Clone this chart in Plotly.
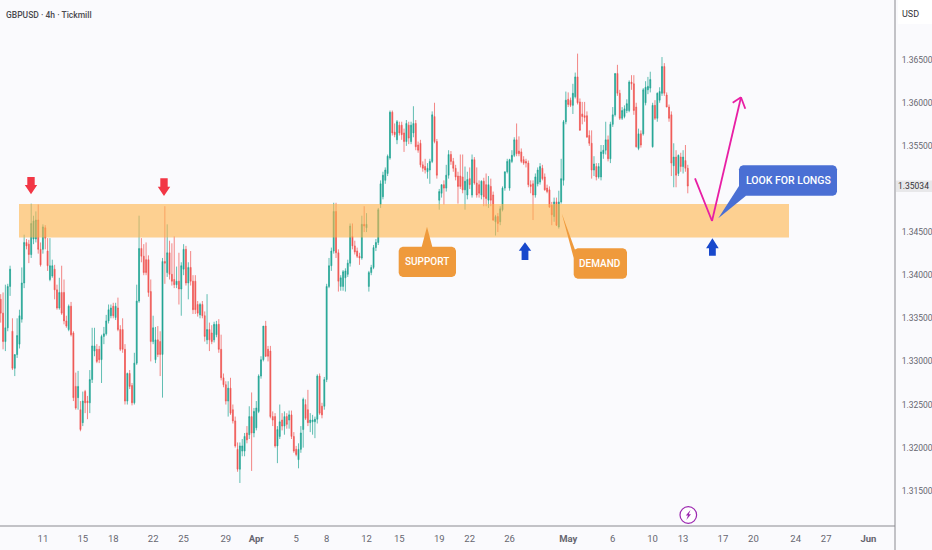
import plotly.graph_objects as go

# Prices as ten-thousandths above 1.0000 (3372 = 1.3372), one entry per 4h candle
OPEN_BP = [3372,3356,3323,3339,3387,3335,3292,3308,3320,3349,
3391,3438,3436,3424,3442,3442,3464,3430,3430,3455,
3428,3395,3399,3407,3383,3362,3380,3380,3347,3337,
3364,3333,3271,3258,3244,3229,3265,3254,3252,3279,
3312,3314,3314,3302,3329,3332,3347,3353,3364,3351,
3362,3337,3337,3314,3254,3286,3272,3252,3298,3370,
3431,3422,3418,3418,3381,3323,3302,3325,3323,3308,
3416,3403,3426,3401,3395,3389,3393,3384,3407,3430,
3391,3409,3393,3393,3366,3354,3366,3353,3325,3337,
3333,3325,3331,3343,3314,3281,3273,3254,3269,3244,
3231,3198,3175,3196,3196,3217,3215,3236,3217,3223,
3242,3283,3302,3341,3314,3312,3236,3236,3202,3213,
3232,3225,3236,3232,3238,3213,3198,3186,3198,3221,
3250,3244,3229,3230,3230,3233,3283,3248,3248,3279,
3387,3411,3428,3474,3426,3387,3387,3397,3401,3414,
3445,3434,3428,3422,3420,3459,3455,3387,3403,3409,
3432,3438,3482,3491,3510,3518,3536,3589,3566,3557,
3574,3574,3565,3555,3574,3555,3565,3576,3551,3553,
3528,3526,3520,3522,3532,3584,3555,3487,3495,3505,
3501,3516,3540,3532,3524,3515,3515,3514,3499,3493,
3512,3493,3534,3507,3505,3493,3509,3505,3487,3503,
3493,3462,3468,3462,3476,3501,3520,3501,3532,3539,
3557,3544,3543,3534,3532,3530,3505,3506,3493,3506,
3508,3524,3514,3501,3499,3481,3468,3485,3456,3485,
3510,3578,3604,3603,3597,3607,3630,3601,3587,3585,
3585,3562,3553,3522,3526,3514,3514,3541,3545,3557,
3535,3575,3586,3634,3611,3582,3584,3591,3591,3624,
3622,3595,3547,3564,3564,3600,3615,3617,3549,3597,
3582,3603,3611,3642,3609,3595,3586,3527,3537,3518,
3537,3526,3533,3524]
HIGH_BP = [3378,3380,3389,3390,3411,3350,3308,3350,3360,3409,
3447,3442,3441,3483,3469,3474,3482,3438,3459,3458,
3443,3443,3418,3412,3389,3397,3411,3395,3353,3366,
3369,3335,3287,3289,3254,3265,3267,3260,3290,3339,
3339,3320,3318,3331,3340,3354,3366,3366,3368,3368,
3374,3342,3350,3320,3287,3290,3275,3310,3389,3469,
3443,3436,3438,3423,3395,3353,3340,3341,3335,3420,
3480,3459,3440,3437,3445,3410,3426,3415,3436,3434,
3415,3428,3400,3400,3370,3368,3370,3358,3378,3345,
3342,3346,3347,3349,3331,3286,3277,3277,3281,3250,
3236,3206,3206,3210,3217,3225,3248,3264,3246,3254,
3285,3306,3341,3347,3318,3318,3242,3240,3225,3250,
3240,3242,3240,3243,3243,3218,3202,3205,3225,3258,
3256,3267,3240,3238,3236,3285,3286,3252,3282,3390,
3420,3432,3484,3484,3430,3400,3406,3408,3418,3460,
3460,3440,3432,3426,3469,3480,3472,3405,3412,3435,
3442,3478,3510,3520,3525,3540,3591,3591,3576,3580,
3578,3578,3570,3580,3578,3578,3596,3580,3555,3557,
3532,3535,3530,3535,3590,3600,3558,3500,3505,3510,
3528,3545,3544,3536,3528,3520,3540,3540,3526,3520,
3525,3540,3537,3525,3510,3510,3513,3518,3515,3512,
3497,3470,3472,3480,3503,3520,3535,3535,3545,3560,
3576,3561,3547,3538,3535,3533,3510,3510,3518,3525,
3530,3528,3518,3505,3503,3485,3490,3490,3498,3535,
3580,3613,3612,3606,3622,3635,3657,3605,3601,3601,
3590,3568,3568,3538,3530,3530,3551,3551,3578,3562,
3578,3595,3634,3644,3615,3595,3597,3604,3626,3632,
3632,3600,3570,3568,3617,3625,3630,3636,3600,3603,
3612,3618,3653,3646,3612,3598,3590,3553,3545,3540,
3542,3545,3551,3528]
LOW_BP = [3345,3314,3312,3335,3376,3290,3283,3304,3315,3345,
3385,3430,3414,3420,3436,3438,3425,3410,3425,3430,
3405,3393,3397,3372,3360,3360,3354,3343,3339,3335,
3329,3254,3244,3244,3219,3225,3240,3233,3240,3275,
3306,3298,3298,3275,3320,3330,3344,3350,3350,3348,
3335,3312,3310,3250,3250,3268,3249,3250,3296,3368,
3415,3400,3400,3375,3300,3320,3298,3305,3283,3258,
3390,3398,3395,3388,3385,3385,3366,3353,3400,3388,
3372,3388,3355,3355,3352,3350,3350,3323,3320,3312,
3320,3322,3328,3310,3278,3270,3250,3236,3238,3228,
3200,3172,3159,3190,3190,3205,3210,3173,3212,3220,
3240,3280,3300,3305,3300,3234,3225,3200,3182,3210,
3220,3215,3222,3222,3210,3194,3190,3176,3194,3200,
3232,3225,3218,3215,3211,3228,3238,3234,3244,3276,
3385,3405,3425,3420,3381,3382,3382,3381,3398,3410,
3430,3424,3420,3412,3418,3450,3450,3381,3400,3407,
3428,3435,3478,3488,3506,3515,3534,3562,3560,3552,
3562,3557,3543,3550,3552,3552,3560,3545,3542,3525,
3520,3518,3512,3506,3530,3553,3512,3476,3490,3482,
3497,3512,3528,3520,3510,3483,3500,3495,3476,3488,
3500,3490,3505,3490,3490,3488,3480,3480,3478,3480,
3463,3446,3450,3458,3474,3498,3518,3498,3530,3537,
3538,3538,3530,3528,3525,3502,3495,3464,3490,3503,
3505,3510,3498,3495,3478,3458,3462,3457,3454,3483,
3504,3575,3595,3595,3587,3605,3598,3568,3575,3578,
3560,3550,3512,3515,3510,3512,3510,3535,3540,3532,
3530,3572,3584,3608,3580,3580,3582,3588,3589,3615,
3586,3548,3545,3548,3562,3597,3610,3612,3548,3580,
3578,3600,3608,3608,3595,3578,3515,3502,3502,3515,
3520,3518,3520,3495]
CLOSE_BP = [3356,3323,3339,3387,3407,3292,3308,3330,3353,3391,
3438,3434,3424,3460,3463,3464,3430,3412,3456,3443,
3411,3411,3411,3383,3362,3380,3356,3347,3341,3364,
3331,3258,3246,3271,3221,3254,3252,3252,3279,3318,
3318,3300,3302,3329,3332,3347,3360,3362,3353,3364,
3337,3314,3314,3254,3286,3271,3252,3298,3370,3431,
3422,3403,3403,3380,3323,3339,3325,3308,3308,3416,
3414,3426,3401,3393,3389,3393,3384,3411,3430,3391,
3409,3393,3360,3360,3356,3366,3353,3329,3337,3325,
3323,3343,3343,3314,3281,3273,3254,3269,3240,3231,
3202,3175,3202,3202,3213,3209,3236,3217,3242,3246,
3283,3302,3341,3306,3306,3236,3232,3202,3221,3230,
3225,3236,3227,3238,3213,3196,3192,3198,3217,3256,
3234,3229,3232,3232,3233,3283,3240,3238,3279,3387,
3411,3428,3474,3426,3393,3397,3404,3405,3414,3457,
3434,3427,3422,3420,3459,3457,3459,3403,3409,3432,
3438,3476,3506,3516,3522,3538,3589,3565,3563,3578,
3565,3563,3555,3576,3559,3574,3576,3549,3545,3528,
3524,3522,3524,3532,3586,3555,3516,3497,3505,3501,
3516,3540,3532,3524,3514,3503,3503,3499,3509,3511,
3505,3534,3507,3493,3495,3509,3491,3489,3505,3487,
3464,3468,3460,3477,3501,3520,3532,3534,3539,3557,
3541,3541,3532,3530,3530,3505,3503,3493,3514,3522,
3526,3512,3499,3497,3479,3470,3485,3458,3485,3512,
3578,3603,3598,3597,3611,3630,3600,3568,3584,3583,
3560,3553,3522,3529,3514,3526,3543,3545,3557,3535,
3575,3586,3634,3611,3582,3591,3593,3599,3624,3622,
3591,3549,3564,3551,3615,3618,3619,3627,3597,3582,
3611,3613,3642,3611,3595,3582,3530,3537,3516,3539,
3526,3537,3524,3503.4]

TICK_LABELS = ["6","11","15","18","22","25","29","<b>Apr</b>","5","8","12","15","19","22","26",
               "<b>May</b>","6","10","13","17","20","24","27","<b>Jun</b>"]
TICK_BARS = [0,18,35,48,65,78,96,109,126,139,156,170,187,200,217,242,261,278,291,308,321,339,352,370]
PRICE_TICKS = [1.315,1.32,1.325,1.33,1.335,1.34,1.345,1.355,1.36,1.365]
LAST_PRICE = "1.35034"

to_price = lambda bp: [1 + v / 10000 for v in bp]
opens, highs, lows, closes = map(to_price, (OPEN_BP, HIGH_BP, LOW_BP, CLOSE_BP))
bars = list(range(len(closes)))

W, H, PW, PH = 932, 550, 895, 526
BG = "#fafafd"
GREEN, RED = "#1ea392", "#ef5350"
FONT = "Roboto"

def X(px): return px / PW
def Y(py): return 1 - py / PH
def path(points):
    return "M " + " L ".join(f"{X(a):.5f} {Y(b):.5f}" for a, b in points) + " Z"

def bubble(x0, y0, x1, y1, top, left=None, r=4):
    pts = list(top)
    pts += [(x1 - r, y0), (x1 - r * .3, y0 + r * .3), (x1, y0 + r)]
    pts += [(x1, y1 - r), (x1 - r * .3, y1 - r * .3), (x1 - r, y1)]
    pts += [(x0 + r, y1), (x0 + r * .3, y1 - r * .3), (x0, y1 - r)]
    pts += left if left else [(x0, y0 + r)]
    pts += [(x0 + r * .3, y0 + r * .3), (x0 + r, y0)]
    return path(pts)

fig = go.Figure(go.Candlestick(
    x=bars, open=opens, high=highs, low=lows, close=closes,
    increasing=dict(line=dict(color=GREEN, width=0.7), fillcolor=GREEN),
    decreasing=dict(line=dict(color=RED, width=0.7), fillcolor=RED),
    whiskerwidth=0, showlegend=False, hoverinfo="skip"))

shapes = [
    # supply / demand zone
    dict(type="rect", xref="paper", yref="y", x0=X(19), x1=X(789), y0=1.34437, y1=1.34826,
         fillcolor="#ffb44a", opacity=0.6, line_width=0, layer="above"),
    # frame
    dict(type="line", xref="paper", yref="paper", x0=0, x1=1, y0=0, y1=0, line=dict(color="#8a8a90", width=1)),
    dict(type="line", xref="paper", yref="paper", x0=1, x1=1, y0=Y(0), y1=Y(H), line=dict(color="#8a8a90", width=1)),
    # USD box
    dict(type="rect", xref="paper", yref="paper", x0=X(898), x1=X(932), y0=Y(0), y1=Y(24), fillcolor="#ffffff", line_width=0),
    # last price tag
    dict(type="rect", xref="paper", yref="paper", x0=X(896), x1=X(932), y0=Y(180.5), y1=Y(192), fillcolor="#e8e8ea", line_width=0),
]
# red and blue block arrows
for x, top, c, hw, sw, neck, tip in [
        (31, 177, "#f23645", 6.2, 3.7, 185, 194.3),
        (164, 178.3, "#f23645", 6.2, 3.7, 186.7, 196)]:
    shapes.append(dict(type="path", xref="paper", yref="paper", line_width=0, fillcolor=c,
        path=path([(x-sw,top),(x+sw,top),(x+sw,neck),(x+hw,neck),(x,tip),(x-hw,neck),(x-sw,neck)])))
for x, tip, c, hw, sw, neck, bot in [
        (525, 242.3, "#1848cc", 6.2, 3.4, 250.7, 260),
        (712.4, 238.3, "#1848cc", 6.3, 3.4, 248.3, 255.7)]:
    shapes.append(dict(type="path", xref="paper", yref="paper", line_width=0, fillcolor=c,
        path=path([(x,tip),(x+hw,neck),(x+sw,neck),(x+sw,bot),(x-sw,bot),(x-sw,neck),(x-hw,neck)])))
# callouts
ORANGE, BLUE = "#ef9a3c", "#4a6fd4"
shapes.append(dict(type="path", xref="paper", yref="paper", line_width=0, fillcolor=ORANGE,
    path=bubble(398.7, 246.7, 456, 277, [(421.7, 246.7), (427, 226.7), (432.3, 246.7)])))
shapes.append(dict(type="path", xref="paper", yref="paper", line_width=0, fillcolor=ORANGE,
    path=bubble(573.7, 248.3, 627, 278.7, [(582, 248.3)], left=[(573.7, 258), (561.7, 213.3)])))
shapes.append(dict(type="path", xref="paper", yref="paper", line_width=0, fillcolor=BLUE,
    path=bubble(739, 165.3, 837, 195.7, [(743, 165.3)])))
shapes.append(dict(type="path", xref="paper", yref="paper", line_width=0, fillcolor=BLUE,
    path=path([(739, 186), (746, 195.7), (718.3, 218.3)])))
# projected path
PINK = "#e81ea4"
for a, b in [((695, 178.3), (712, 221)), ((712, 221), (741, 97.3)),
             ((732.7, 102.7), (741, 97.3)), ((741, 97.3), (745.3, 108.7))]:
    shapes.append(dict(type="line", xref="paper", yref="paper", x0=X(a[0]), y0=Y(a[1]), x1=X(b[0]), y1=Y(b[1]),
                       line=dict(color=PINK, width=1.8)))
# event marker
shapes.append(dict(type="circle", xref="paper", yref="paper", x0=X(680), x1=X(696.6), y0=Y(506.7), y1=Y(523.3),
                   line=dict(color="#9c27b0", width=1.2), fillcolor="#ffffff"))
shapes.append(dict(type="path", xref="paper", yref="paper", line_width=0, fillcolor="#9c27b0",
    path=path([(690.5, 510), (685.8, 515.6), (688, 515.6), (686.3, 520), (691, 514.2), (688.8, 514.2)])))

def label(px, py, text, size, color, weight=None, anchor="center"):
    return dict(xref="paper", yref="paper", x=X(px), y=Y(py), text=text, showarrow=False,
                xanchor=anchor, yanchor="middle", borderpad=0, font=dict(family=FONT, size=size, color=color, weight=weight))

annotations = [
    label(5, 14.5, "GBPUSD · 4h · Tickmill", 8.5, "#4a4a50", 500, "left"),
    label(910.5, 14, "USD", 9, "#333338"),
    label(914, 186.3, LAST_PRICE, 8.5, "#333338"),
    label(427.3, 261.8, "SUPPORT", 10, "#ffffff", 500),
    label(600.3, 263, "DEMAND", 10, "#ffffff", 500),
    label(788, 180, "LOOK FOR LONGS", 10.5, "#ffffff", 500),
]

fig.update_layout(
    width=W, height=H, autosize=False, boxgap=0.42,
    margin=dict(l=0, r=W - PW, t=0, b=H - PH, pad=0),
    paper_bgcolor=BG, plot_bgcolor=BG,
    font=dict(family=FONT, size=10, color="#666670"),
    shapes=shapes, annotations=annotations,
    xaxis=dict(range=[-0.3, (PW - 0.7) / 2.345], rangeslider_visible=False, showgrid=False, zeroline=False,
               automargin=False, tickmode="array", tickvals=TICK_BARS, ticktext=TICK_LABELS, ticks="outside", ticklen=4,
               tickcolor="rgba(0,0,0,0)", tickfont=dict(size=9.5, color="#666670"), showline=False),
    yaxis=dict(side="right", range=[1.31091, 1.37192], showgrid=False, zeroline=False, showline=False, automargin=False,
               tickmode="array", tickvals=PRICE_TICKS, tickformat=".5f", ticks="outside", ticklen=4,
               tickcolor="rgba(0,0,0,0)", tickfont=dict(size=8.5, color="#666670")),
)
fig.write_html("out.html", config=dict(displayModeBar=False),
               post_script="document.body.style.margin='0';document.body.style.background='" + BG + "';")
